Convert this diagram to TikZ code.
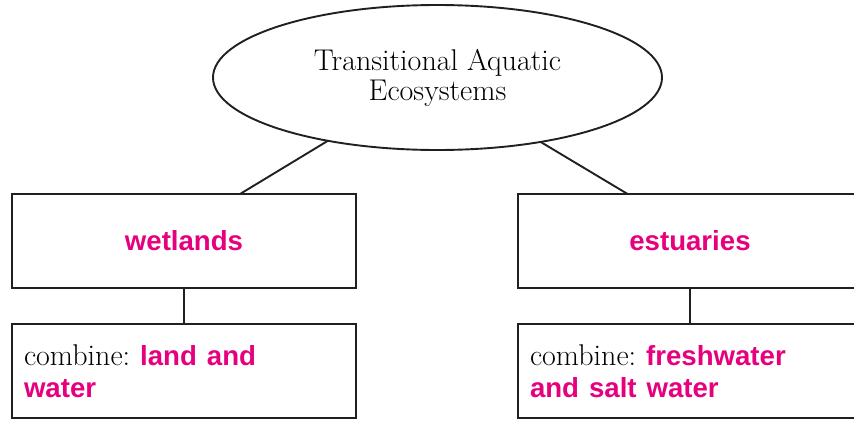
\documentclass[tikz,border=0pt]{standalone}
\usepackage{fontspec}
\usepackage{tikz}
\usetikzlibrary{shapes.geometric}

\newfontfamily\pinksans{Liberation Sans}
\definecolor{inkblack}{RGB}{35,31,32}
\definecolor{hlpink}{RGB}{230,0,126}
\newcommand{\pinkword}[1]{{\pinksans\bfseries\fontsize{27.6}{32}\selectfont\color{hlpink}#1}}

\begin{document}
\begin{tikzpicture}[x=1pt,y=-1pt]
        % Box formulae (in pixels of the page)
        \pgfmathsetmacro{\boxw}{344}
        \pgfmathsetmacro{\boxh}{94}
        \pgfmathsetmacro{\pad}{12}

        \tikzset{
            every node/.style={inner sep=0pt, outer sep=0pt},
            topic/.style={ellipse, draw=inkblack, line width=1.9pt,
                minimum width=449pt, minimum height=145pt,
                align=center, font=\fontsize{30}{30}\selectfont},
            kind/.style={rectangle, draw=inkblack, line width=1.9pt,
                minimum width=\boxw pt, minimum height=\boxh pt},
            mix/.style={kind, inner xsep=\pad pt, text width=\boxw pt-2*\pad pt,
                align=left, font=\frenchspacing\fontsize{30}{32}\selectfont},
            link/.style={draw=inkblack, line width=1.9pt},
        }

        % Page frame, right hand boxes run off the page
        \useasboundingbox (0,0) rectangle (854,421);
        \clip (0,0) rectangle (854,421);

        % Top of the tree
        \node[topic] (tae) at (437.5,77.5) {Transitional Aquatic\\Ecosystems};

        % The two kinds
        \node[kind] (wet) at (184,241) {\pinkword{wetlands}};
        \node[kind] (est) at (690,241) {\pinkword{estuaries}};

        % What each kind combines
        \node[mix] (wetmix) at (184,371) {combine: \pinkword{land and}\\\pinkword{water}};
        \node[mix] (estmix) at (690,371) {combine: \pinkword{freshwater}\\\pinkword{and salt water}};

        \begin{scope}[link]
            \draw (tae.210) -- (wet.40);
            \draw (tae.328) -- (est.143);
            \draw (wet) -- (wetmix);
            \draw (est) -- (estmix);
        \end{scope}

\end{tikzpicture}
\end{document}
